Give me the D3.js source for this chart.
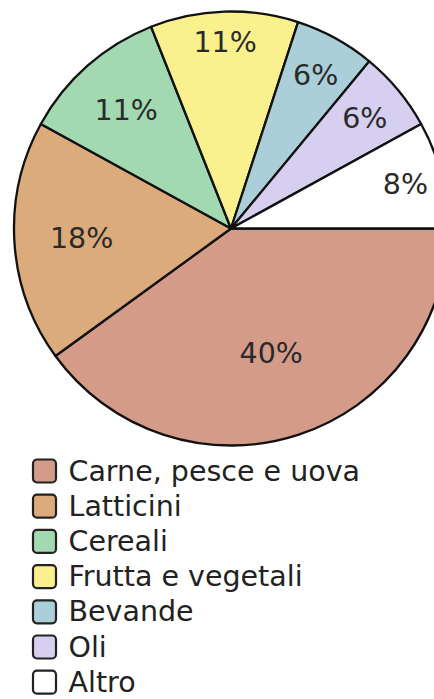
<!DOCTYPE html>
<html>
<head>
<meta charset="utf-8">
<script src="https://cdn.jsdelivr.net/npm/d3@7"></script>
<style>
  html, body { margin: 0; padding: 0; background: #ffffff; }
  svg { display: block; }
</style>
</head>
<body>
<svg id="chart" width="434" height="699"></svg>
<script>
// ---- data ----
const categories = ["Carne, pesce e uova", "Latticini", "Cereali", "Frutta e vegetali", "Bevande", "Oli", "Altro"];
const values = [40, 18, 11, 11, 6, 6, 8];
const colors = ["#d49b88", "#dcab7c", "#a2d9b1", "#faf08e", "#aacfd9", "#d7cff0", "#ffffff"];

// ---- layout ----
const W = 434, H = 699;
const cx = 231, cy = 228.5, R = 217;
const labelFrac = [0.60, 0.69, 0.73, 0.86, 0.81, 0.80, 0.83];
const font = "DejaVu Sans, Verdana, sans-serif";

const svg = d3.select("#chart");

const pie = d3.pie()
  .value(d => d)
  .sort(null)
  .startAngle(Math.PI / 2)
  .endAngle(Math.PI / 2 + 2 * Math.PI);

const arcs = pie(values);
const arc = d3.arc().innerRadius(0).outerRadius(R);

const g = svg.append("g").attr("transform", `translate(${cx},${cy})`);

g.selectAll("path.slice")
  .data(arcs)
  .join("path")
  .attr("class", "slice")
  .attr("d", arc)
  .attr("fill", (d, i) => colors[i])
  .attr("stroke", "#111")
  .attr("stroke-width", 2.3)
  .attr("stroke-linejoin", "round");

g.selectAll("text.pct")
  .data(arcs)
  .join("text")
  .attr("class", "pct")
  .attr("transform", (d, i) => {
    const a = (d.startAngle + d.endAngle) / 2;
    const r = R * labelFrac[i];
    return `translate(${r * Math.sin(a)},${-r * Math.cos(a)})`;
  })
  .attr("text-anchor", "middle")
  .attr("dy", "0.36em")
  .attr("font-family", font)
  .attr("font-size", 28.5)
  .attr("fill", "#2a2a2a")
  .text(d => d.value + "%");

// ---- legend ----
const legend = svg.append("g").attr("transform", "translate(32,471)");
const rowH = 35.2;
const rows = legend.selectAll("g.row")
  .data(categories)
  .join("g")
  .attr("class", "row")
  .attr("transform", (d, i) => `translate(0,${i * rowH})`);

rows.append("rect")
  .attr("x", 1)
  .attr("y", -11.5)
  .attr("width", 23)
  .attr("height", 23)
  .attr("rx", 4)
  .attr("fill", (d, i) => colors[i])
  .attr("stroke", "#222")
  .attr("stroke-width", 2.2);

rows.append("text")
  .attr("x", 36.5)
  .attr("y", 9.5)
  .attr("font-family", font)
  .attr("font-size", 28.5)
  .attr("fill", "#222")
  .text(d => d);
</script>
</body>
</html>
